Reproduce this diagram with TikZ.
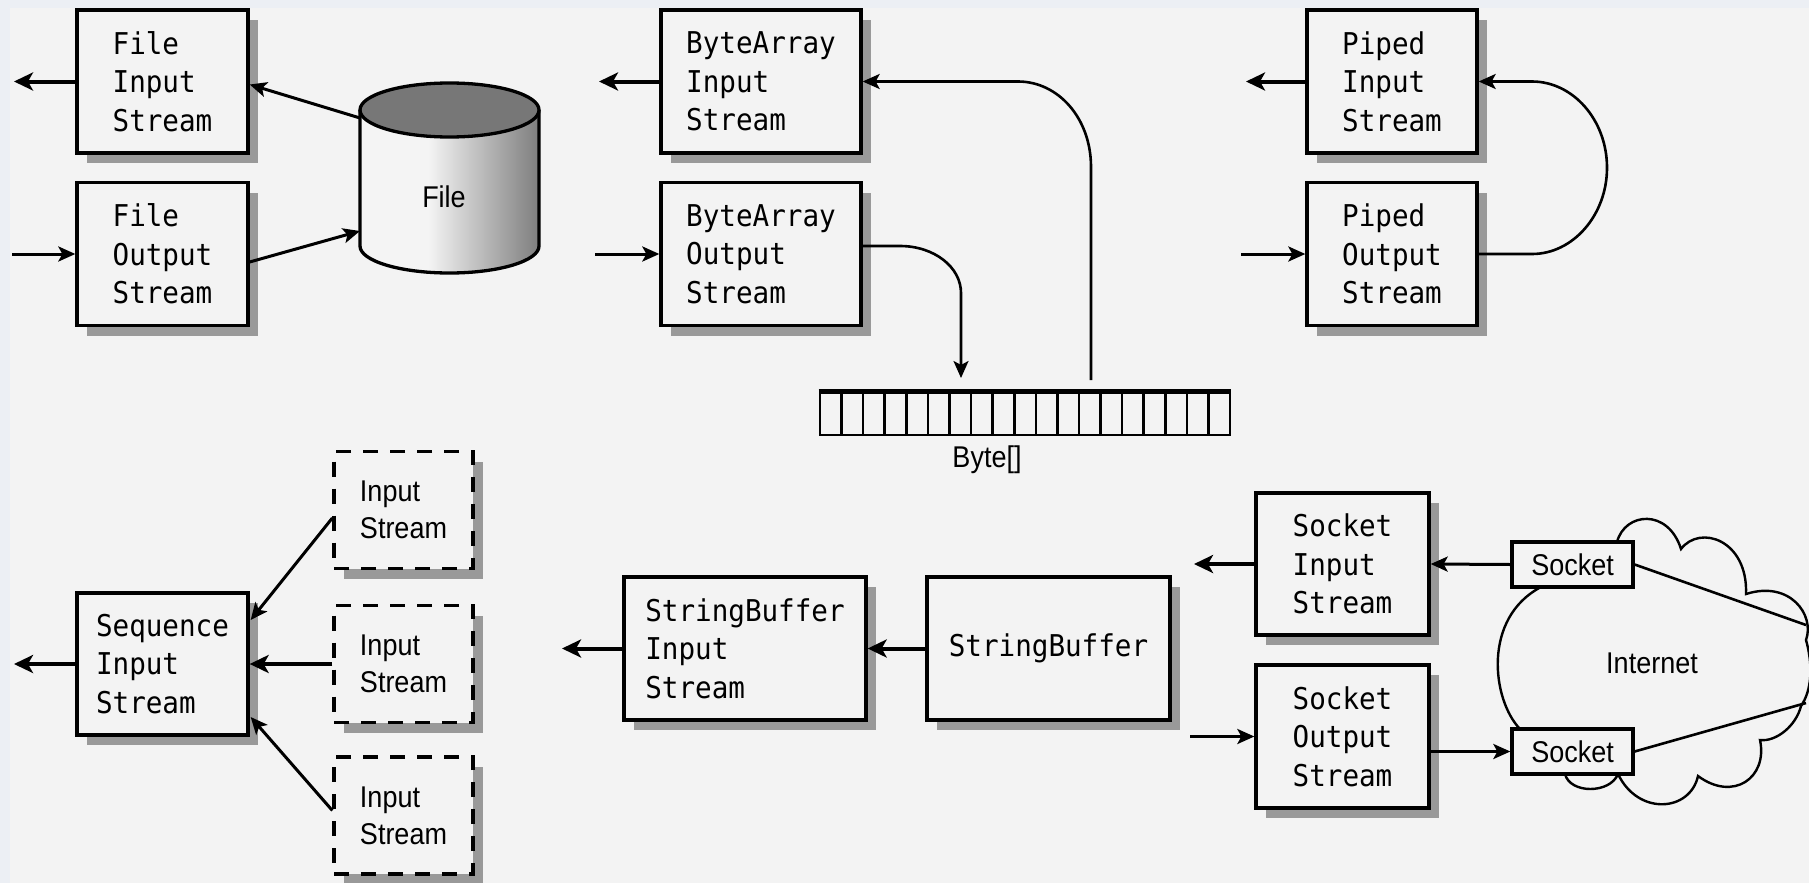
\documentclass[tikz,border=0pt]{standalone}
\usepackage{fontspec}
\usetikzlibrary{arrows.meta,shadows,calc}
\newfontfamily\monofont[FakeStretch=0.92]{DejaVu Sans Mono}
\newfontfamily\narrowsans[FakeStretch=0.9]{Liberation Sans}
\definecolor{bg}{HTML}{F3F3F3}
\definecolor{edgetint}{HTML}{ECEFF4}
\definecolor{shadowgray}{HTML}{999999}
\definecolor{cyltop}{HTML}{777777}
\definecolor{cyllight}{HTML}{F4F4F4}
\definecolor{cyldark}{HTML}{7E7E7E}
\pgfdeclarehorizontalshading{cylbody}{100bp}{color(0bp)=(cyllight); color(25bp)=(cyllight); color(44bp)=(cyllight); color(75bp)=(cyldark); color(100bp)=(cyldark)}
\tikzset{
  boxshadow/.style={drop shadow={shadow xshift=10pt, shadow yshift=-10pt, fill=shadowgray, opacity=1}},
  streambox/.style={draw=black, line width=3.3pt, fill=bg, align=left, inner sep=0pt,
    font=\monofont\fontsize{30}{38.5}\selectfont, boxshadow},
  inbox/.style={draw=black, line width=3.3pt, dash pattern=on 15pt off 12pt, fill=bg,
    align=left, inner sep=0pt, font=\narrowsans\fontsize{30}{37}\selectfont, boxshadow,
    minimum width=139pt, minimum height=117pt},
  sockbox/.style={draw=black, line width=3.3pt, fill=bg, inner sep=0pt,
    font=\narrowsans\fontsize{30}{36}\selectfont, minimum width=121pt, minimum height=45pt},
  plainlabel/.style={inner sep=0pt, font=\narrowsans\fontsize{30}{36}\selectfont},
  outarrow/.style={line width=4pt, -{Stealth[length=19pt,width=18pt,inset=5pt]}},
  inarrow/.style={line width=3pt, -{Stealth[length=17pt,width=15pt,inset=4pt]}},
  link/.style={line width=2.6pt},
  linkarrow/.style={line width=2.6pt, -{Stealth[length=17pt,width=15pt,inset=4pt]}},
}
\begin{document}
\begin{tikzpicture}[x=1pt,y=-1pt]
\useasboundingbox (0,0) rectangle (1809,883);
% page background with a faint tinted edge
\fill[edgetint] (0,0) rectangle (1809,883);
\fill[bg] (10,8) rectangle (1809,883);

% ---------- File streams ----------
\node[streambox, minimum width=171pt, minimum height=143pt] (fis) at (162.5,81.5) {File\\Input\\Stream};
\node[streambox, minimum width=171pt, minimum height=143pt] (fos) at (162.5,254) {File\\Output\\Stream};

% the file drum
\shade[shading=cylbody] (360,110) -- (360,246)
  arc[start angle=180, end angle=360, x radius=89.5pt, y radius=27pt] -- (539,110) -- cycle;
\draw[line width=3.3pt] (360,110) -- (360,246)
  arc[start angle=180, end angle=360, x radius=89.5pt, y radius=27pt] -- (539,110);
\draw[line width=3.3pt, fill=cyltop] (449.5,110) ellipse [x radius=89.5pt, y radius=27pt];
\node[plainlabel] (file) at (444,197) {File};
\coordinate (cylA) at (360,118);
\coordinate (cylB) at (360,231);

\coordinate (fisOut) at (14,81.5);
\coordinate (fosIn) at (12,254);
\draw[outarrow] (fis.west) -- (fisOut);
\draw[inarrow] (fosIn) -- (fos.west);
\draw[inarrow] (cylA) -- ([yshift=-3pt]fis.east);
\draw[inarrow] ([yshift=-8pt]fos.east) -- (cylB);

% ---------- ByteArray streams ----------
\node[streambox, minimum width=200pt, minimum height=143pt] (bais) at (761,81.5) {ByteArray\\Input\\Stream};
\node[streambox, minimum width=200pt, minimum height=143pt] (baos) at (761,254) {ByteArray\\Output\\Stream};

\node[draw, line width=2.8pt, fill=bg, minimum width=410pt, minimum height=42pt, inner sep=0pt] (bytes) at (1025,414) {};
\foreach \i in {1,...,18} {
  \draw[line width=2.6pt] ($(820,393)+(\i*21.58,0)$) -- ($(820,435)+(\i*21.58,0)$);
}
\draw[line width=5pt] (bytes.north west) -- (bytes.north east);
\node[plainlabel] (bytelabel) at (987,460) {Byte[]};

\coordinate (baisOut) at (599,81.5);
\coordinate (baosIn) at (595,254);
\coordinate (bytesIn) at (961,378);
\coordinate (bytesOut) at (1091,380);
\draw[outarrow] (bais.west) -- (baisOut);
\draw[inarrow] (baosIn) -- (baos.west);
\draw[linkarrow] ([yshift=8pt]baos.east) -- (900,246)
  .. controls (934,246) and (961,267) .. (961,293) -- (bytesIn);
\draw[linkarrow] (bytesOut) -- (1091,167)
  .. controls (1091,118) and (1058,81.5) .. (1018,81.5) -- (bais.east);

% ---------- Piped streams ----------
\node[streambox, minimum width=170pt, minimum height=143pt] (pis) at (1392,81.5) {Piped\\Input\\Stream};
\node[streambox, minimum width=170pt, minimum height=143pt] (pos) at (1392,254) {Piped\\Output\\Stream};
\coordinate (pisOut) at (1246,81.5);
\coordinate (posIn) at (1241,254);
\draw[outarrow] (pis.west) -- (pisOut);
\draw[inarrow] (posIn) -- (pos.west);
\draw[linkarrow] (pos.east) -- (1532,254)
  .. controls (1573,254) and (1607,215) .. (1607,167.75)
  .. controls (1607,120) and (1573,81.5) .. (1532,81.5) -- (pis.east);

% ---------- Sequence stream ----------
\node[streambox, minimum width=171pt, minimum height=142pt] (seq) at (162.5,664) {Sequence\\Input\\Stream};
\node[inbox] (in1) at (403.5,510) {Input\\Stream};
\node[inbox] (in2) at (403.5,664) {Input\\Stream};
\node[inbox] (in3) at (403.5,815.5) {Input\\Stream};
\coordinate (seqOut) at (14,664);
\draw[outarrow] (seq.west) -- (seqOut);
\draw[inarrow] ($(in1.west)+(0,8)$) -- ($(seq.east)+(1,-44)$);
\draw[outarrow] (in2.west) -- (seq.east);
\draw[inarrow] ($(in3.west)+(0,-5)$) -- ($(seq.east)+(1,53)$);

% ---------- StringBuffer stream ----------
\node[streambox, minimum width=242pt, minimum height=143pt] (sbis) at (745,648.5) {StringBuffer\\Input\\Stream};
\node[streambox, minimum width=243pt, minimum height=143pt] (sb) at (1048.5,648.5) {StringBuffer};
\coordinate (sbisOut) at (562,648.5);
\draw[outarrow] (sb.west) -- (sbis.east);
\draw[outarrow] (sbis.west) -- (sbisOut);

% ---------- Socket streams and the network ----------
\draw[line width=2.4pt, fill=bg] (1617,542)
  .. controls (1625,512) and (1668,508) .. (1681,549)
  .. controls (1700,524) and (1748,540) .. (1746,594)
  .. controls (1790,580) and (1815,615) .. (1806,640)
  .. controls (1813,665) and (1812,690) .. (1801,706)
  .. controls (1796,726) and (1776,742) .. (1760,740)
  .. controls (1768,778) and (1733,802) .. (1698,776)
  .. controls (1690,812) and (1638,816) .. (1618,774)
  .. controls (1610,794) and (1570,794) .. (1565,774)
  -- (1530,774) -- (1520,729)
  .. controls (1492,700) and (1482,618) .. (1541,587)
  -- (1617,587) -- cycle;
\node[plainlabel] (net) at (1652,663) {Internet};

\node[streambox, minimum width=173pt, minimum height=142pt] (sis) at (1342.5,564) {Socket\\Input\\Stream};
\node[streambox, minimum width=173pt, minimum height=143pt] (sos) at (1342.5,736.5) {Socket\\Output\\Stream};
\node[sockbox] (sock1) at (1572.5,564.5) {Socket};
\node[sockbox] (sock2) at (1572.5,751.5) {Socket};
\coordinate (sisOut) at (1194,564);
\coordinate (sosIn) at (1190,736.5);
\coordinate (netA) at (1806,625);
\coordinate (netB) at (1806,703);
\draw[outarrow] (sis.west) -- (sisOut);
\draw[inarrow] (sock1.west) -- (sis.east);
\draw[inarrow] (sosIn) -- (sos.west);
\draw[inarrow] (sos.east |- sock2.west) -- (sock2.west);
\draw[link] (sock1.east) -- (netA);
\draw[link] (sock2.east) -- (netB);
\end{tikzpicture}
\end{document}
